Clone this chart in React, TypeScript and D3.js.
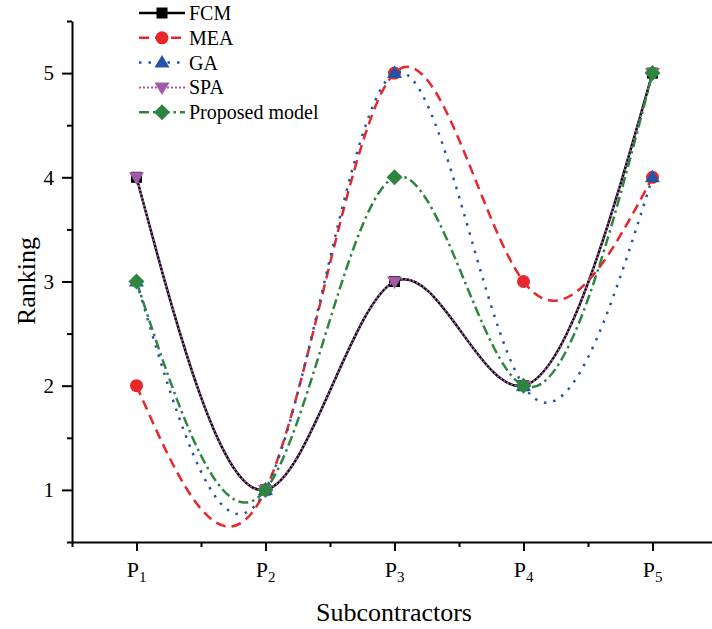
import React, { useEffect, useRef } from 'react';
import * as d3 from 'd3';

// ranking of each subcontractor (P1..P5) by method
const positions = [1, 2, 3, 4, 5];
const subLabels = ['1', '2', '3', '4', '5'];
const fcm = [4, 1, 3, 2, 5];
const mea = [2, 1, 5, 3, 4];
const ga = [3, 1, 5, 2, 4];
const spa = [4, 1, 3, 2, 5];
const proposed = [3, 1, 4, 2, 5];
const seriesNames = ['FCM', 'MEA', 'GA', 'SPA', 'Proposed model'];
const rankTicks = [1, 2, 3, 4, 5];
const minorTicks = [0.5, 1.5, 2.5, 3.5, 4.5, 5.5];

const W = 712;
const H = 629;
const FONT = '"Liberation Serif", "Times New Roman", serif';

const markerPaths = {
  square: 'M-5.5,-5.5h11v11h-11Z',
  circle: 'M-6.5,0a6.5,6.5 0 1,0 13,0a6.5,6.5 0 1,0 -13,0Z',
  triUp: 'M0,-7.5L7.5,5L-7.5,5Z',
  triDown: 'M0,7.5L7.5,-5L-7.5,-5Z',
  diamond: 'M0,-8L8,0L0,8L-8,0Z',
};

const styles = [
  { color: '#000000', dash: null, width: 2.5, marker: 'square' },
  { color: '#e8262b', dash: '10,6', width: 2.5, marker: 'circle' },
  { color: '#2554a5', dash: '2.5,7', width: 2.5, marker: 'triUp' },
  { color: '#a35aa8', dash: '2,2', width: 2, marker: 'triDown' },
  { color: '#2e8540', dash: '10,4,2.5,4', width: 2.5, marker: 'diamond' },
];

const App = () => {
  const ref = useRef<SVGSVGElement>(null);

  useEffect(() => {
    const svg = d3.select(ref.current);
    svg.selectAll('*').remove();

    const x = d3.scaleLinear().domain([0.5, 5.5]).range([72, 717]);
    const y = d3.scaleLinear().domain([0.5, 5.5]).range([542, 21]);

    svg.append('rect').attr('width', W).attr('height', H).attr('fill', 'white');

    // axes
    const yMinor = svg.append('g').attr('transform', 'translate(72,0)')
      .call(d3.axisLeft(y).tickValues(minorTicks).tickSize(5).tickFormat(() => ''));
    yMinor.select('.domain').remove();
    const yMajor = svg.append('g').attr('transform', 'translate(72,0)')
      .call(d3.axisLeft(y).tickValues(rankTicks).tickSize(10).tickSizeOuter(0).tickPadding(8)
        .tickFormat((d) => String(d)));
    yMajor.selectAll('text').attr('font-family', FONT).attr('font-size', 21).attr('fill', 'black');

    const xMinor = svg.append('g').attr('transform', 'translate(0,542)')
      .call(d3.axisBottom(x).tickValues(minorTicks).tickSize(5).tickFormat(() => ''));
    xMinor.select('.domain').remove();
    svg.append('g').attr('transform', 'translate(0,542)')
      .call(d3.axisBottom(x).tickValues(positions).tickSize(9).tickSizeOuter(0).tickFormat(() => ''));

    svg.selectAll('.domain, .tick line').attr('stroke', 'black').attr('stroke-width', 2);

    // x tick labels P with subscript
    positions.forEach((p, i) => {
      const t = svg.append('text')
        .attr('x', x(p))
        .attr('y', 577)
        .attr('text-anchor', 'middle')
        .attr('font-family', FONT)
        .attr('font-size', 22);
      t.append('tspan').text('P');
      t.append('tspan').attr('dy', 5).attr('font-size', 15).text(subLabels[i]);
    });

    // axis titles
    svg.append('text')
      .attr('x', 394).attr('y', 621)
      .attr('text-anchor', 'middle')
      .attr('font-family', FONT).attr('font-size', 26)
      .text('Subcontractors');
    svg.append('text')
      .attr('transform', 'translate(35,281) rotate(-90)')
      .attr('text-anchor', 'middle')
      .attr('font-family', FONT).attr('font-size', 26)
      .text('Ranking');

    // series
    const allSeries = [fcm, mea, ga, spa, proposed];
    const line = d3.line<number>()
      .x((_, i) => x(positions[i]))
      .y((d) => y(d))
      .curve(d3.curveNatural);

    allSeries.forEach((vals, si) => {
      const st = styles[si];
      const g = svg.append('g');
      g.append('path')
        .attr('d', line(vals))
        .attr('fill', 'none')
        .attr('stroke', st.color)
        .attr('stroke-width', st.width)
        .attr('stroke-dasharray', st.dash);
      g.selectAll('.mk')
        .data(vals)
        .enter().append('path')
        .attr('class', 'mk')
        .attr('transform', (d, i) => `translate(${x(positions[i])},${y(d)})`)
        .attr('d', markerPaths[st.marker])
        .attr('fill', st.color);
    });

    // legend
    const legend = svg.append('g');
    seriesNames.forEach((name, i) => {
      const st = styles[i];
      const ly = 13 + i * 24.8;
      legend.append('line')
        .attr('x1', 139).attr('x2', 185).attr('y1', ly).attr('y2', ly)
        .attr('stroke', st.color).attr('stroke-width', st.width)
        .attr('stroke-dasharray', st.dash);
      legend.append('path')
        .attr('transform', `translate(162,${ly})`)
        .attr('d', markerPaths[st.marker])
        .attr('fill', st.color);
      legend.append('text')
        .attr('x', 189).attr('y', ly)
        .attr('dy', '0.35em')
        .attr('font-family', FONT).attr('font-size', 20)
        .text(name);
    });
  }, []);

  return (
    <svg ref={ref} width={W} height={H}
      style={{ position: 'absolute', left: 0, top: 0, display: 'block' }} />
  );
};

export default App;
